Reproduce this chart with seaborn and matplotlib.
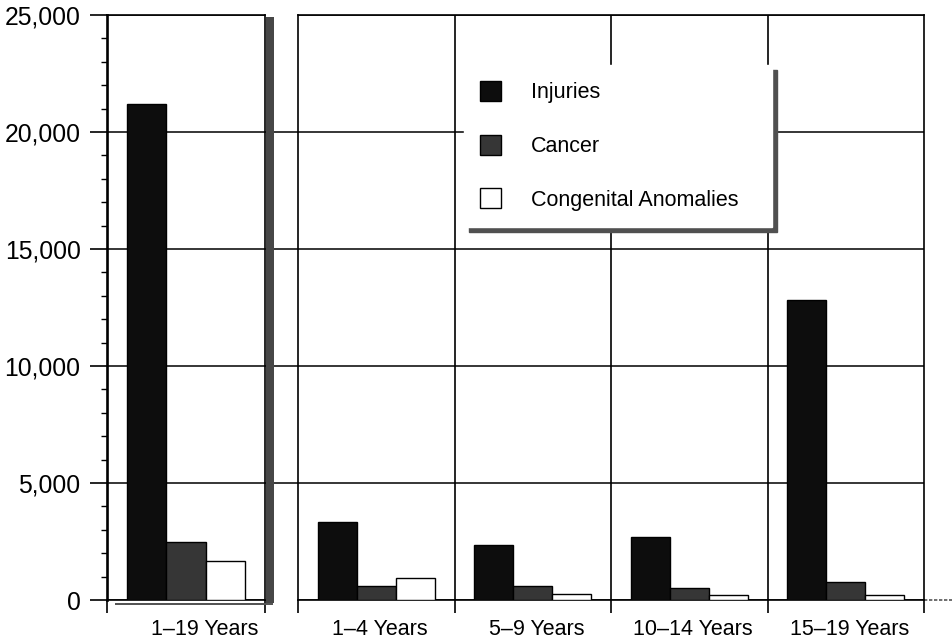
import numpy as np
import pandas as pd
import matplotlib
matplotlib.use("Agg")
import matplotlib.pyplot as plt
import matplotlib.transforms as mtransforms
from matplotlib.patches import Patch, Rectangle
from matplotlib.lines import Line2D
from matplotlib.ticker import MultipleLocator
import seaborn as sns

# ---------------- data ----------------
causes = ["Injuries", "Cancer", "Congenital Anomalies"]

overall_label = "1–19 Years"
overall_injuries = 21200
overall_cancer = 2500
overall_congenital = 1680

age_groups = ["1–4 Years", "5–9 Years", "10–14 Years", "15–19 Years"]
injuries = [3330, 2350, 2700, 12800]
cancer = [600, 600, 510, 770]
congenital = [940, 260, 210, 210]

y_ticks = [0, 5000, 10000, 15000, 20000, 25000]
y_tick_labels = ["0", "5,000", "10,000", "15,000", "20,000", "25,000"]

colors = {"Injuries": "#0d0d0d", "Cancer": "#363636", "Congenital Anomalies": "#ffffff"}

df_left = pd.DataFrame({
    "group": [overall_label] * 3,
    "cause": causes,
    "deaths": [overall_injuries, overall_cancer, overall_congenital],
})
rows = []
for cause, vals in zip(causes, [injuries, cancer, congenital]):
    for g, v in zip(age_groups, vals):
        rows.append({"group": g, "cause": cause, "deaths": v})
df_right = pd.DataFrame(rows)

# ---------------- style ----------------
sns.set_theme(style="white")
plt.rcParams["font.family"] = ["Liberation Sans", "DejaVu Sans"]
plt.rcParams["text.color"] = "black"
plt.rcParams["xtick.color"] = "black"
plt.rcParams["ytick.color"] = "black"

W, H = 952, 641
fig = plt.figure(figsize=(W / 100, H / 100), dpi=100)
fig.patch.set_facecolor("white")

y_bottom_px = 600
y_top_px = 15
ax1 = fig.add_axes([107 / W, 1 - y_bottom_px / H, 158 / W, (y_bottom_px - y_top_px) / H])
ax2 = fig.add_axes([298 / W, 1 - y_bottom_px / H, 626 / W, (y_bottom_px - y_top_px) / H])

FS = 15.5
FS_Y = 17.8
for ax, df, order in [(ax1, df_left, [overall_label]), (ax2, df_right, age_groups)]:
    sns.barplot(data=df, x="group", y="deaths", hue="cause", hue_order=causes,
                order=order, palette=colors, width=0.75, gap=0, errorbar=None,
                edgecolor="black", linewidth=1.0, legend=False, ax=ax, zorder=3)
    ax.set_xlabel("")
    ax.set_ylabel("")
    ax.set_ylim(0, 25000)
    ax.set_yticks(y_ticks)
    ax.yaxis.grid(True, which="major", color="black", linewidth=1.1)
    ax.xaxis.grid(False)
    ax.set_axisbelow(True)
    for s in ax.spines.values():
        s.set_visible(True)
        s.set_color("black")
        s.set_linewidth(1.2)
    n = len(order)
    ax.set_xticks(np.arange(n))
    ax.set_xticks(np.arange(n + 1) - 0.5, minor=True)
    ax.tick_params(axis="x", which="major", length=0, pad=14, labelsize=FS)
    ax.tick_params(axis="x", which="minor", direction="out", length=9, width=1.2, bottom=True)

# left axis y ticks
ax1.set_yticklabels(y_tick_labels)
ax1.yaxis.set_minor_locator(MultipleLocator(1000))
ax1.tick_params(axis="y", which="major", direction="out", length=12, width=1.2, pad=7,
                labelsize=FS_Y, left=True)
ax1.tick_params(axis="y", which="minor", direction="out", length=4.5, width=1.0, left=True)
ax1.spines["left"].set_linewidth(1.9)

# right axis: no y labels
ax2.tick_params(axis="y", which="both", length=0, labelleft=False)

# vertical dividers in the right panel
for i in range(1, len(age_groups)):
    ax2.axvline(i - 0.5, color="black", linewidth=1.2, zorder=1)

# gridlines crossing the gap between panels
gap_frac = (298 - 265) / 158
for yv in y_ticks[1:-1]:
    ax1.add_line(Line2D([1.0, 1.0 + gap_frac], [yv, yv], color="black", linewidth=1.1,
                        transform=ax1.get_yaxis_transform(), clip_on=False, zorder=2))

# shadow of left panel
ax1.add_patch(Rectangle((1.006, -3 / 585), 8 / 158, 1 - 2 / 585 + 3 / 585,
                        transform=ax1.transAxes, facecolor="#474747", edgecolor="none",
                        clip_on=False, zorder=4))
ax1.add_patch(Rectangle((8 / 158, -5 / 585), 1.0, 2.2 / 585,
                        transform=ax1.transAxes, facecolor="#555555", edgecolor="none",
                        clip_on=False, zorder=4))

# baseline extension to the right
ax2.add_line(Line2D([1.0, 1.0 + 28 / 626], [0, 0], color="#555555", linewidth=1.2,
                    linestyle=(0, (2, 1)), transform=ax2.get_yaxis_transform(),
                    clip_on=False))

# label offsets
off1 = mtransforms.ScaledTranslation(19 / 100, 0, fig.dpi_scale_trans)
for lbl in ax1.get_xticklabels():
    lbl.set_transform(lbl.get_transform() + off1)
off2 = mtransforms.ScaledTranslation(4 / 100, 0, fig.dpi_scale_trans)
for lbl in ax2.get_xticklabels():
    lbl.set_transform(lbl.get_transform() + off2)

# legend
handles = [Patch(facecolor=colors[c], edgecolor="black", linewidth=1.0) for c in causes]
leg_x0, leg_x1, leg_top = 464, 772, 65
leg = ax2.legend(handles, causes, loc="upper left", mode="expand",
                 bbox_to_anchor=(leg_x0 / W, 1 - leg_top / H, (leg_x1 - leg_x0) / W, 0),
                 bbox_transform=fig.transFigure,
                 frameon=True, fancybox=False, edgecolor="white", facecolor="white",
                 framealpha=1,
                 shadow={"ox": 3.5, "oy": -3.5, "facecolor": "#505050",
                         "edgecolor": "#505050", "alpha": 1},
                 fontsize=FS, handlelength=0.95, handleheight=1.05, handletextpad=1.4,
                 labelspacing=1.45, borderpad=0.75, borderaxespad=0)
leg.set_zorder(10)

fig.savefig("out.png", dpi=100, facecolor="white")
